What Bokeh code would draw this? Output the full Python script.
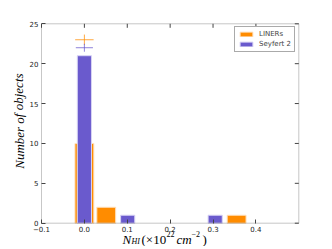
from bokeh.plotting import figure
from bokeh.models import (ColumnDataSource, Legend, LegendItem, LinearAxis, FixedTicker,
                          Label, Range1d, BoxAnnotation)
from bokeh.embed import file_html
from bokeh.resources import INLINE

# ---- data ----
liners_nh = [0.0, 0.051, 0.355]
liners_counts = [10, 2, 1]
seyfert_nh = [0.0, 0.101, 0.305]
seyfert_counts = [21, 1, 1]

liners_width = 0.044
seyfert_width = 0.033

mean_x = [0.0, 0.0]
mean_y = [23.0, 22.0]
mean_xerr = [0.0215, 0.02]
mean_yerr = [0.65, 0.5]

x_ticks = [-0.1, 0.0, 0.1, 0.2, 0.3, 0.4]
y_ticks = [0, 5, 10, 15, 20, 25]
x_lim = (-0.1, 0.5)
y_lim = (0, 25)

ORANGE = "#FF8C00"
PURPLE = "#6A5ACD"
FONT = "DejaVu Sans"
SERIF = "Liberation Serif"
AX = "#444444"

# ---- layout (pixels) ----
W, H = 324, 246
OX, OY = 1, 1                     # where the figure lands on the page
FL, FR, FT, FB = 42.0, 299.3, 24.3, 223.7   # wanted axes box on the page
sx = (FR - FL) / (x_lim[1] - x_lim[0])      # px per x unit
sy = (FB - FT) / (y_lim[1] - y_lim[0])      # px per y unit
x_start = x_lim[0] - (FL - OX) / sx
x_end = x_lim[1] + (OX + W - FR) / sx
y_start = y_lim[0] - (OY + H - FB) / sy
y_end = y_lim[1] + (FT - OY) / sy

p = figure(width=W, height=H, output_backend="svg", toolbar_location=None,
           x_range=Range1d(x_start, x_end), y_range=Range1d(y_start, y_end),
           x_axis_location=None, y_axis_location=None,
           min_border=0, min_border_left=0, min_border_right=0,
           min_border_top=0, min_border_bottom=0)
p.background_fill_color = "white"
p.border_fill_color = "white"
p.outline_line_color = None
p.grid.visible = False

src_l = ColumnDataSource(dict(x=liners_nh, top=liners_counts))
src_s = ColumnDataSource(dict(x=seyfert_nh, top=seyfert_counts))
rl = p.vbar(x="x", top="top", width=liners_width, bottom=0, source=src_l,
            fill_color=ORANGE, line_color="#ffe2c0", line_width=1)
rs = p.vbar(x="x", top="top", width=seyfert_width, bottom=0, source=src_s,
            fill_color=PURPLE, line_color="#d8d4f4", line_width=1)

# mean markers with error bars
cols = [ORANGE, PURPLE]
for i in range(2):
    p.segment(x0=[mean_x[i] - mean_xerr[i]], x1=[mean_x[i] + mean_xerr[i]],
              y0=[mean_y[i]], y1=[mean_y[i]], line_color=cols[i], line_width=1, line_alpha=0.75)
    p.segment(x0=[mean_x[i]], x1=[mean_x[i]],
              y0=[mean_y[i] - mean_yerr[i]], y1=[mean_y[i] + mean_yerr[i]],
              line_color=cols[i], line_width=1, line_alpha=0.75)

# axes box
p.add_layout(BoxAnnotation(left=x_lim[0], right=x_lim[1], bottom=y_lim[0], top=y_lim[1],
                           fill_alpha=0, line_color=AX, line_width=1))

def style_axis(ax):
    ax.axis_line_color = None
    ax.major_tick_in = 4
    ax.major_tick_out = 0
    ax.minor_tick_line_color = None
    ax.major_tick_line_color = AX
    ax.major_label_text_font = FONT
    ax.major_label_text_font_size = "7px"
    ax.major_label_text_color = "#222222"
    ax.major_label_standoff = 3

xax = LinearAxis(ticker=FixedTicker(ticks=x_ticks), fixed_location=y_lim[0])
xax.major_label_overrides = {t: ("%.1f" % t).replace("-", "\u2212") for t in x_ticks}
yax = LinearAxis(ticker=FixedTicker(ticks=y_ticks), fixed_location=x_lim[0])
style_axis(xax)
style_axis(yax)
p.add_layout(xax, "below")
p.add_layout(yax, "left")

# inward ticks on the top and right edges
tick_len = 4.0
p.segment(x0=x_ticks, x1=x_ticks, y0=[y_lim[1]] * len(x_ticks),
          y1=[y_lim[1] - tick_len / sy] * len(x_ticks), line_color=AX, line_width=1)
p.segment(x0=[x_lim[1]] * len(y_ticks), x1=[x_lim[1] - tick_len / sx] * len(y_ticks),
          y0=y_ticks, y1=y_ticks, line_color=AX, line_width=1)

# legend, placed in screen px from the bottom-left of the figure
leg_left = 235 - OX
leg_bottom = (OY + H) - 52.5
legend = Legend(items=[LegendItem(label="LINERs", renderers=[rl]),
                       LegendItem(label="Seyfert 2", renderers=[rs])],
                location=(leg_left, leg_bottom), margin=0, padding=3, spacing=2,
                glyph_width=16, glyph_height=6, label_height=6,
                label_text_font=FONT, label_text_font_size="7px",
                label_standoff=5, border_line_color="#555555", border_line_width=1,
                background_fill_alpha=1.0)
p.add_layout(legend)

# y axis label
p.add_layout(Label(x=x_lim[0] - 22.5 / sx, y=(y_lim[0] + y_lim[1]) / 2 + 0.3,
                   text="Number of objects", angle=1.5708,
                   text_font=SERIF, text_font_style="italic", text_font_size="13px",
                   text_align="center", text_baseline="middle", text_color="black"))

# x axis label pieces (N_HI (x10^22 cm^-2))
base_x = x_lim[0] + (123 - FL) / sx
main_y = y_lim[0] - 16.5 / sy
sub_y = y_lim[0] - 18.5 / sy
sup_y = y_lim[0] - 10.5 / sy
parts = [
    ("N", 0, main_y, "italic", "13px"),
    ("HI", 9, sub_y, "italic", "8px"),
    ("(\u00d710", 19, main_y, "normal", "13px"),
    ("22", 44, sup_y, "normal", "8px"),
    ("cm", 54, main_y, "italic", "13px"),
    ("\u22122", 69, sup_y, "normal", "8px"),
    (")", 80, main_y, "normal", "13px"),
]
for txt, off, yy, style, size in parts:
    p.add_layout(Label(x=base_x, y=yy, x_offset=off, text=txt, text_font=SERIF,
                       text_font_style=style, text_font_size=size,
                       text_align="left", text_baseline="alphabetic", text_color="black"))

open("out.html", "w").write(file_html(p, INLINE))
